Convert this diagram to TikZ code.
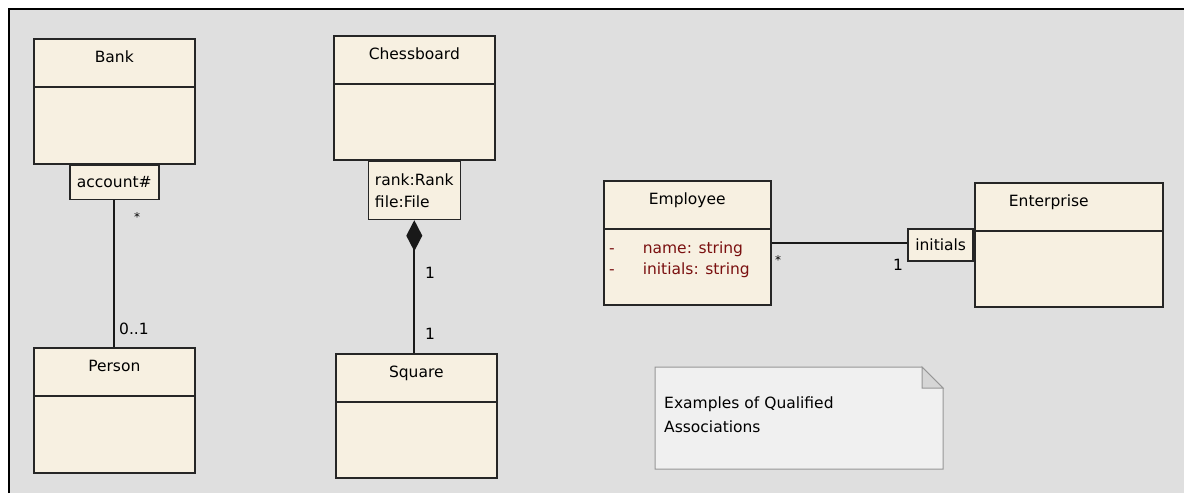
\documentclass[tikz,border=0pt]{standalone}
\usepackage{fontspec}
\setmainfont{DejaVu Sans}
\usetikzlibrary{arrows.meta,positioning}

\definecolor{classfill}{RGB}{247,240,225}
\definecolor{canvas}{RGB}{223,223,223}
\definecolor{notefill}{RGB}{240,240,240}
\definecolor{noteline}{RGB}{150,150,150}
\definecolor{notefold}{RGB}{214,214,214}
\definecolor{attrred}{RGB}{122,16,16}

\tikzset{
    classbox/.style={draw=black!85, line width=1.6pt, fill=classfill, anchor=north west, inner sep=0pt},
    qualbox/.style={draw=black!85, line width=1.6pt, fill=classfill, inner sep=0pt, align=left,
        font=\fontsize{15.5}{22}\selectfont},
    classtitle/.style={anchor=base, inner sep=0pt, font=\fontsize{15.5}{18}\selectfont},
    divider/.style={draw=black!85, line width=1.6pt},
    assoc/.style={draw=black!90, line width=1.7pt},
    mult/.style={inner sep=0pt, font=\fontsize{15.5}{18}\selectfont},
    star/.style={inner sep=0pt, font=\fontsize{12}{12}\selectfont},
}

% name, x, y, width, height, title, title shift
\newcommand{\umlclass}[7]{%
    \node[classbox, minimum width=#4, minimum height=#5] (#1) at (#2,#3) {};
    \node[classtitle, xshift=#7] (#1-title) at ([yshift=-24pt]#1.north) {#6};
    \draw[divider] ([yshift=-49pt]#1.north west) -- ([yshift=-49pt]#1.north east);
}

\begin{document}
\begin{tikzpicture}[x=1pt, y=-1pt]
    \useasboundingbox (0,0) rectangle (1184,493);
    \fill[canvas] (9,9) rectangle (1184,493);
    \draw[black, line width=2pt] (9,493) -- (9,9) -- (1184,9);

    % classes
    \umlclass{bank}{33}{38}{161}{125}{Bank}{0pt}
    \umlclass{person}{33}{347}{161}{125}{Person}{0pt}
    \umlclass{chess}{333}{35}{161}{124}{Chessboard}{0pt}
    \umlclass{square}{335}{353}{161}{124}{Square}{0pt}
    \umlclass{employee}{603}{180}{167}{124}{Employee}{0pt}
    \umlclass{enterprise}{974}{182}{188}{124}{Enterprise}{-20pt}

    % qualifiers
    \node[qualbox, anchor=north, minimum width=89, minimum height=34] (account) at (bank.south) {account\#};
    \node[qualbox, anchor=north, minimum width=92, minimum height=58] (chessq) at (chess.south) {rank:Rank\\file:File};
    \node[qualbox, anchor=east, minimum width=65, minimum height=32] (initq) at (enterprise.west) {initials};

    % attributes
    \node[anchor=base west, inner sep=0pt, text=attrred, font=\fontsize{15.5}{18}\selectfont] (emp-attrs) at (609,253)
        {\begin{tabular}[t]{@{}l@{\hspace{28pt}}l@{}}
            - & name: string\\[3pt]
            - & initials: string
        \end{tabular}};

    % associations
    \draw[assoc] (account.south) -- (account.south |- person.north);
    \draw[assoc, {Diamond[length=31pt, width=16pt]}-] (chessq.south) -- (chessq.south |- square.north);
    \draw[assoc] (employee.east) -- (employee.east -| initq.west);

    % multiplicities
    \node[star] (bank-m) at (137,217) {*};
    \node[mult] (person-m) at (134,329) {0..1};
    \node[mult] (chess-m) at (430,273) {1};
    \node[mult] (square-m) at (430,334) {1};
    \node[star] (employee-m) at (778,260) {*};
    \node[mult] (enterprise-m) at (898,265) {1};

    % note
    \draw[fill=notefill, draw=noteline, line width=1pt] (655,367) -- (922,367) -- (943,388) -- (943,469) -- (655,469) -- cycle;
    \draw[fill=notefold, draw=noteline, line width=1pt] (922,367) -- (922,388) -- (943,388) -- cycle;
    \node[anchor=north west, inner sep=0pt, align=left, font=\fontsize{15.5}{24}\selectfont] (note) at (664,397)
        {Examples of Qualified\\Associations};
\end{tikzpicture}
\end{document}
